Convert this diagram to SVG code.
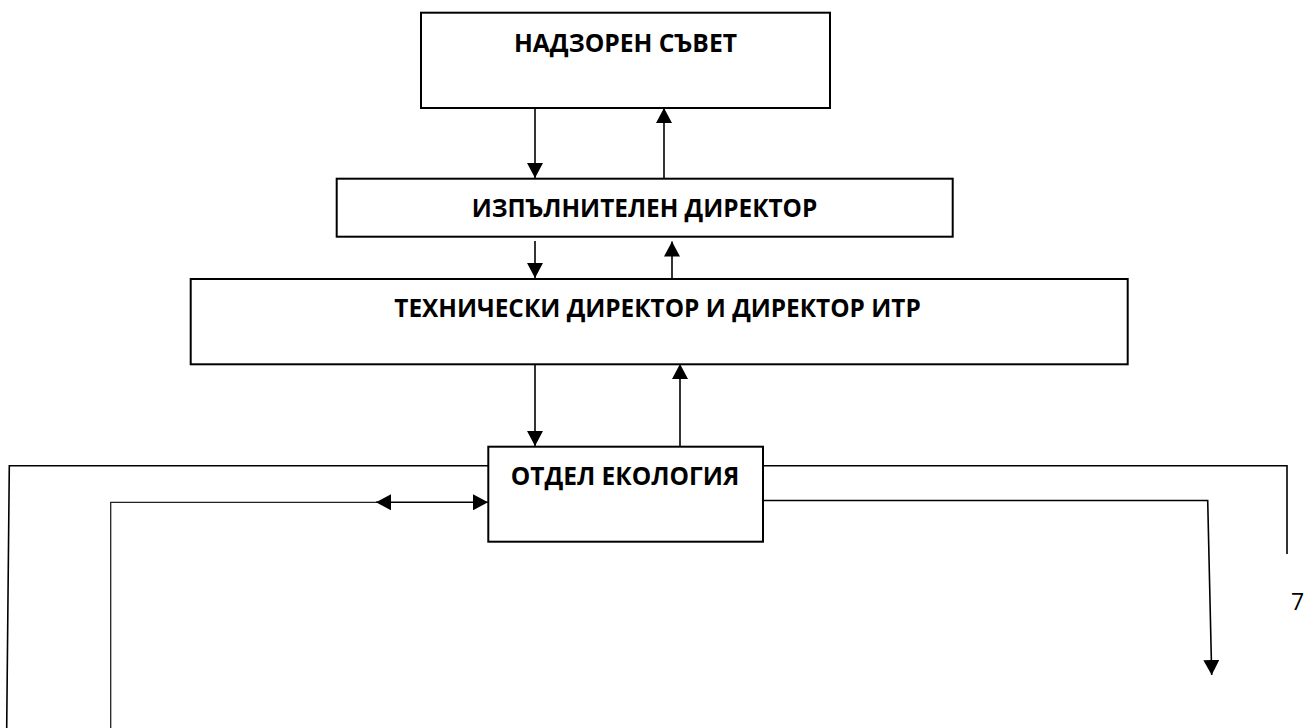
<svg xmlns="http://www.w3.org/2000/svg" width="1306" height="728" viewBox="0 0 1306 728">
  <style>
    .box { fill: #ffffff; stroke: #000000; stroke-width: 2; }
    .lbl { font-family: "Open Sans", "Liberation Sans", sans-serif; font-weight: bold; font-size: 25px; fill: #000000; }
    .num { font-family: "Open Sans", "Liberation Sans", sans-serif; font-size: 23px; fill: #000000; }
    .ln { fill: none; stroke: #000000; stroke-width: 1.6; }
    .thin { fill: none; stroke: #222222; stroke-width: 1.3; }
  </style>
  <defs>
    <marker id="ah" markerUnits="userSpaceOnUse" markerWidth="15" markerHeight="16" refX="15" refY="8" orient="auto-start-reverse" viewBox="0 0 15 16">
      <path d="M0,0 L15,8 L0,16 z" fill="#000000"/>
    </marker>
  </defs>
  <rect width="1306" height="728" fill="#ffffff"/>

  <g id="connectors">
    <line class="ln" x1="535" y1="108" x2="535" y2="178" marker-end="url(#ah)"/>
    <line class="ln" x1="664" y1="178" x2="664" y2="108" marker-end="url(#ah)"/>
    <line class="ln" x1="535" y1="241" x2="535" y2="278" marker-end="url(#ah)"/>
    <line class="ln" x1="672" y1="278" x2="672" y2="241.5" marker-end="url(#ah)"/>
    <line class="ln" x1="535" y1="364" x2="535" y2="446" marker-end="url(#ah)"/>
    <line class="ln" x1="680" y1="446" x2="680" y2="364" marker-end="url(#ah)"/>
    <polyline class="ln" points="488,465.7 9.3,465.7 6.7,728"/>
    <polyline class="thin" points="110.7,728 110.7,502.3 378,502.3"/>
    <line class="ln" x1="376" y1="502.3" x2="488" y2="502.3" stroke-width="2" marker-start="url(#ah)" marker-end="url(#ah)"/>
    <polyline class="ln" points="763,465.7 1287,465.7 1287,554"/>
    <polyline class="ln" points="757,500.5 1207.7,500.5 1211.7,675" marker-end="url(#ah)"/>
  </g>

  <g id="node-nadzoren">
    <rect class="box" x="421" y="12.7" width="409" height="95.3"/>
    <text class="lbl" x="514" y="52.3" textLength="223" lengthAdjust="spacingAndGlyphs">НАДЗОРЕН СЪВЕТ</text>
  </g>
  <g id="node-izpalnitelen">
    <rect class="box" x="336.7" y="178.7" width="616" height="58"/>
    <text class="lbl" x="471.7" y="216.7" textLength="345.6" lengthAdjust="spacingAndGlyphs">ИЗПЪЛНИТЕЛЕН ДИРЕКТОР</text>
  </g>
  <g id="node-tehnicheski">
    <rect class="box" x="190.7" y="279" width="937" height="85.3"/>
    <text class="lbl" x="394.3" y="317.3" textLength="526.4" lengthAdjust="spacingAndGlyphs">ТЕХНИЧЕСКИ ДИРЕКТОР И ДИРЕКТОР ИТР</text>
  </g>
  <g id="node-ekologia">
    <rect class="box" x="488.3" y="446.7" width="274.7" height="95"/>
    <text class="lbl" x="510.7" y="485" textLength="228.6" lengthAdjust="spacingAndGlyphs">ОТДЕЛ ЕКОЛОГИЯ</text>
  </g>
  <text class="num" x="1291" y="610">7</text>
</svg>
